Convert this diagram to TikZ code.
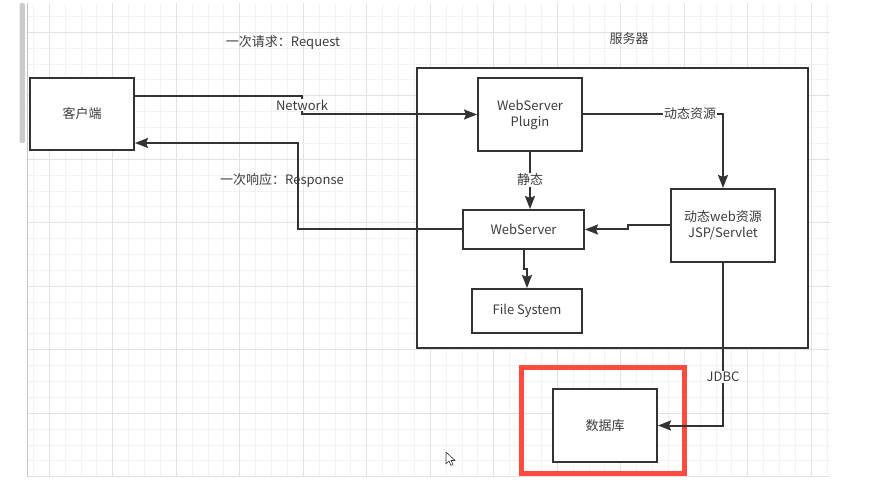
\documentclass[tikz,border=0pt]{standalone}
\usepackage{fontspec}
\setmainfont{Noto Sans CJK SC}
\usetikzlibrary{arrows.meta}
\definecolor{ink}{HTML}{333333}
\definecolor{txt}{HTML}{3C3C3C}
\definecolor{gridminor}{HTML}{F2F2F2}
\definecolor{gridmajor}{HTML}{E2E2E2}
\definecolor{gridedge}{HTML}{C4C4C4}
\definecolor{scroll}{HTML}{CCCCCC}
\definecolor{redbox}{HTML}{FF4B3E}
\tikzset{
  box/.style={draw=ink, line width=2pt, fill=white, text=txt, align=center, inner sep=0pt, font=\fontsize{13}{16}\selectfont},
  conn/.style={draw=ink, line width=2pt, -{Stealth[length=13pt,width=10pt,inset=2pt]}},
  lbl/.style={text=txt, inner sep=1pt, font=\fontsize{13}{16}\selectfont},
  lblw/.style={lbl, fill=white},
}
\begin{document}
\begin{tikzpicture}[x=1pt,y=-1pt]
\useasboundingbox[fill=white] (0,0) rectangle (876,494);
% grid
\foreach \i in {0,...,50} {\draw[gridminor, line width=0.7pt] ({33.3+15.875*\i},3) -- (({33.3+15.875*\i},477);}
\foreach \i in {0,...,29} {\draw[gridminor, line width=0.7pt] (27,{16.3+15.875*\i}) -- (830,{16.3+15.875*\i});}
\foreach \i in {0,...,12} {\draw[gridmajor, line width=0.8pt] ({49.2+63.5*\i},3) -- ({49.2+63.5*\i},477);}
\foreach \i in {0,...,7} {\draw[gridmajor, line width=0.8pt] (27,{32.2+63.5*\i}) -- (830,{32.2+63.5*\i});}
\draw[gridedge, line width=0.9pt] (27,3) -- (27,477);
\fill[scroll, rounded corners=2pt] (19.5,3) rectangle (25,143);

% labels outside
\node[lbl] (reqlbl) at (283,43) {一次请求：Request};
\node[lbl] (srvlbl) at (629,39) {服务器};

% boxes
\node[box, minimum width=104pt, minimum height=72pt] (client) at (82,114) {客户端};
\node[box, minimum width=391pt, minimum height=280pt] (server) at (612.5,208) {};
\node[box, minimum width=104pt, minimum height=73pt] (plugin) at (530,114.5) {WebServer\\Plugin};
\node[box, minimum width=121pt, minimum height=39pt] (webserver) at (523.5,229.5) {WebServer};
\node[box, minimum width=104pt, minimum height=73pt] (jsp) at (723,225.5) {动态web资源\\JSP/Servlet};
\node[box, minimum width=110pt, minimum height=44pt] (fs) at (527,311) {File System};
\node[box, minimum width=104pt, minimum height=73pt] (db) at (605,425.5) {数据库};
\node[draw=redbox, line width=4.5pt, minimum width=163pt, minimum height=106pt, inner sep=0pt] (red) at (603,420.5) {};

% connectors
\coordinate (netx) at (302,105);
\draw[conn] ([yshift=18pt]client.east) -| (netx) |- (plugin.west);
\node[lblw] (netlbl) at (netx) {Network};

\coordinate (resx) at (298,180);
\draw[conn] (webserver.west) -| (resx) |- ([yshift=-29pt]client.east);
\node[lbl] (reslbl) at (282,180) {一次响应：Response};

\draw[conn] (plugin.east) -| (jsp.north);
\node[lblw] (dynlbl) at (690,114) {动态资源};

\draw[conn] (plugin.south) -- (plugin.south |- webserver.north);
\node[lblw] (statlbl) at (530,180) {静态};

\coordinate (jogc) at (628,227);
\draw[conn] (jsp.west) -| (jogc) |- (webserver.east);

\coordinate (fsj) at (525,269);
\draw[conn] (webserver.south) |- (fsj) -| (fs.north);

\draw[conn] (jsp.south) |- (db.east);
\node[lblw] (jdbclbl) at (723,377) {JDBC};

% mouse cursor
\draw[ink, line width=0.6pt, fill=white, line join=round] (446,452) -- (446,464) -- (449,461) -- (451,465.5) -- (453,464.5) -- (451,460.5) -- (455,460.5) -- cycle;
\end{tikzpicture}
\end{document}
